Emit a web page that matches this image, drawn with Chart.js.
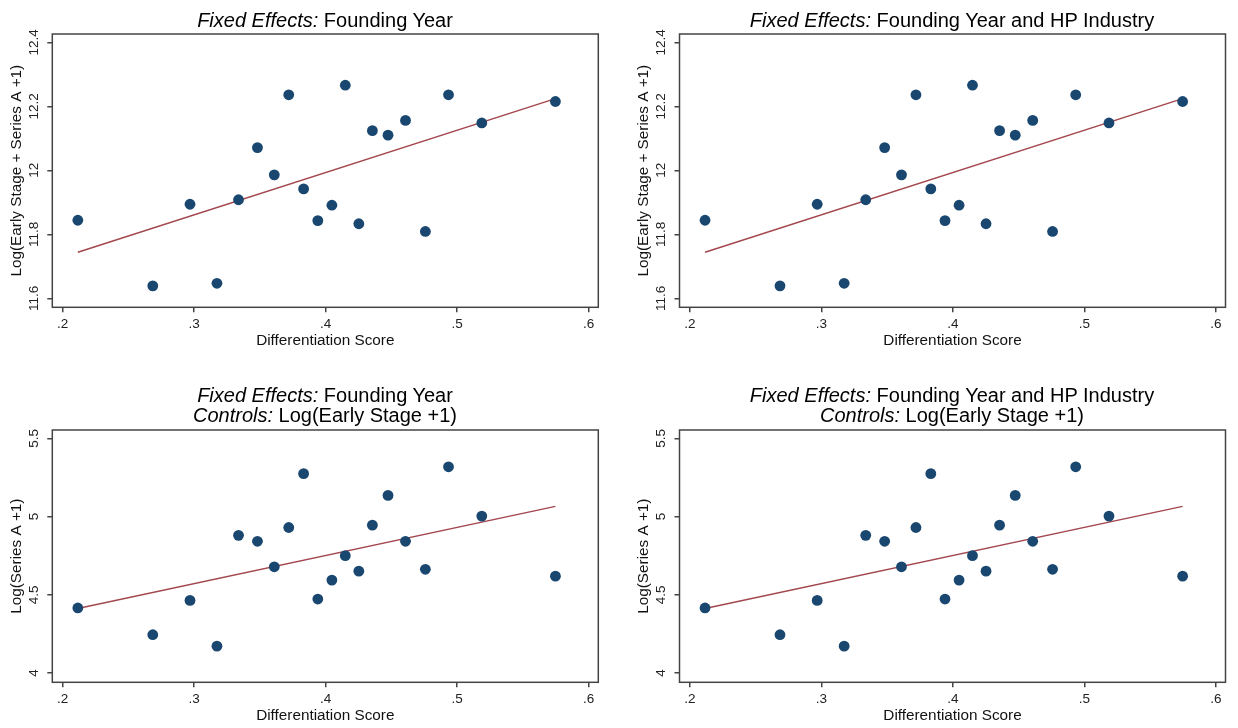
<!DOCTYPE html>
<html><head><meta charset="utf-8">
<script src="https://cdn.jsdelivr.net/npm/chart.js@4.4.1/dist/chart.umd.min.js"></script>
<style>
html,body{margin:0;padding:0;background:#fff;}
#wrap{position:relative;width:1238px;height:728px;overflow:hidden;font-family:"Liberation Sans",Arial,sans-serif;}
canvas{position:absolute;}
.ttl{position:absolute;text-align:center;font-size:20px;line-height:20px;color:#000;white-space:nowrap;}
</style></head><body>
<div id="wrap">
 <canvas id="c1" width="619" height="364" style="left:0;top:0"></canvas>
 <canvas id="c2" width="611" height="364" style="left:627px;top:0"></canvas>
 <canvas id="c3" width="619" height="364" style="left:0;top:364px"></canvas>
 <canvas id="c4" width="611" height="364" style="left:627px;top:364px"></canvas>
 <div class="ttl" style="left:52px;top:10px;width:546px"><i>Fixed Effects:</i> Founding Year</div>
 <div class="ttl" style="left:679px;top:10px;width:546px"><i>Fixed Effects:</i> Founding Year and HP Industry</div>
 <div class="ttl" style="left:52px;top:385px;width:546px"><i>Fixed Effects:</i> Founding Year<br><i>Controls:</i> Log(Early Stage +1)</div>
 <div class="ttl" style="left:679px;top:385px;width:546px"><i>Fixed Effects:</i> Founding Year and HP Industry<br><i>Controls:</i> Log(Early Stage +1)</div>
</div>
<script>
// ---- data ----
const xScores = [0.2115, 0.2685, 0.2968, 0.3173, 0.3337, 0.3481, 0.3609, 0.3719, 0.3832, 0.3940,
                 0.4047, 0.4149, 0.4252, 0.4355, 0.4474, 0.4607, 0.4758, 0.4934, 0.5187, 0.5747];
const yTopLeft = [11.844, 11.639, 11.894, 11.647, 11.908, 12.071, 11.986, 12.236, 11.942, 11.843,
                  11.891, 12.266, 11.833, 12.124, 12.110, 12.156, 11.809, 12.236, 12.148, 12.215];
const yTopRight = [11.844, 11.639, 11.894, 11.647, 11.908, 12.071, 11.986, 12.236, 11.942, 11.843,
                   11.891, 12.266, 11.833, 12.124, 12.110, 12.156, 11.809, 12.236, 12.148, 12.215];
const yBottomLeft = [4.416, 4.245, 4.464, 4.172, 4.880, 4.842, 4.679, 4.930, 5.274, 4.473,
                     4.594, 4.750, 4.651, 4.945, 5.135, 4.842, 4.663, 5.318, 5.003, 4.619];
const yBottomRight = [4.416, 4.245, 4.464, 4.172, 4.880, 4.842, 4.679, 4.930, 5.274, 4.473,
                      4.594, 4.750, 4.651, 4.945, 5.135, 4.842, 4.663, 5.318, 5.003, 4.619];
const fitX = [0.2115, 0.5747];
const fitTop = [11.744, 12.224];
const fitBottom = [4.412, 5.065];
const xTicks = [0.2, 0.3, 0.4, 0.5, 0.6];
const yTicksTop = [11.6, 11.8, 12, 12.2, 12.4];
const yTicksBottom = [4, 4.5, 5, 5.5];
const xTitle = 'Differentiation Score';
const yTitleTop = 'Log(Early Stage + Series A +1)';
const yTitleBottom = 'Log(Series A +1)';

const FAM = "'Liberation Sans', Arial, sans-serif";
const framePlugin = {
  id: 'frame',
  afterDraw(chart) {
    const {ctx, chartArea: a} = chart;
    ctx.save();
    ctx.strokeStyle = '#444';
    ctx.lineWidth = 1.5;
    ctx.strokeRect(a.left, a.top, a.right - a.left, a.bottom - a.top);
    ctx.restore();
  }
};

function panel(id, yVals, fitY, yTicks, yTitle, geo) {
  const c = document.getElementById(id);
  const W = c.width, H = c.height;
  new Chart(c, {
    type: 'scatter',
    data: {
      datasets: [
        { data: xScores.map((x, i) => ({x: x, y: yVals[i]})), backgroundColor: '#1a476f',
          borderColor: '#1a476f', pointRadius: 5.4, pointBorderWidth: 0, order: 1 },
        { data: fitX.map((x, i) => ({x: x, y: fitY[i]})), showLine: true, borderColor: '#a3474e',
          borderWidth: 1.5, pointRadius: 0, fill: false, order: 2 }
      ]
    },
    options: {
      responsive: false, animation: false, events: [],
      layout: { padding: { left: 0, top: geo.T, right: W - geo.R, bottom: 0 } },
      plugins: { legend: { display: false }, tooltip: { enabled: false } },
      scales: {
        x: {
          type: 'linear', position: 'bottom', min: geo.xmin, max: geo.xmax,
          afterBuildTicks: s => { s.ticks = xTicks.map(v => ({value: v})); },
          afterFit: s => { s.height = H - geo.B; },
          grid: { drawOnChartArea: false, drawTicks: true, tickLength: 5, color: '#444', lineWidth: 1.5 },
          border: { display: false },
          ticks: { callback: v => String(v).replace(/^0\./, '.'), font: { size: 13.5, family: FAM },
                   color: '#222', padding: 4, maxRotation: 0, autoSkip: false },
          title: { display: true, text: xTitle, font: { size: 15.3, family: FAM }, color: '#111',
                   padding: { top: 0, bottom: geo.xtPad } }
        },
        y: {
          type: 'linear', position: 'left', min: geo.ymin, max: geo.ymax,
          afterBuildTicks: s => { s.ticks = yTicks.map(v => ({value: v})); },
          afterFit: s => { s.width = geo.L; },
          grid: { drawOnChartArea: false, drawTicks: true, tickLength: 5, color: '#444', lineWidth: 1.5 },
          border: { display: false },
          ticks: { callback: v => String(v), font: { size: 13.5, family: FAM }, color: '#222',
                   padding: geo.ytPad, minRotation: 90, maxRotation: 90, crossAlign: 'center', autoSkip: false },
          title: { display: true, text: yTitle, font: { size: 15.3, family: FAM }, color: '#111',
                   padding: { top: 7.8, bottom: 0 } }
        }
      }
    },
    plugins: [framePlugin]
  });
}

const xmin = 0.2 - 10.4 / 1313, xmax = 0.6 + 9.6 / 1313;
panel('c1', yTopLeft, fitTop, yTicksTop, yTitleTop,
  { L: 52.3, R: 598.3, T: 34, B: 307.3, xmin, xmax, ymin: 11.572, ymax: 12.426, xtPad: 14, ytPad: 0.2 });
panel('c2', yTopRight, fitTop, yTicksTop, yTitleTop,
  { L: 52.5, R: 598.5, T: 34, B: 307.3, xmin, xmax, ymin: 11.572, ymax: 12.426, xtPad: 14, ytPad: 0.2 });
panel('c3', yBottomLeft, fitBottom, yTicksBottom, yTitleBottom,
  { L: 52.3, R: 598.3, T: 66, B: 318.3, xmin, xmax, ymin: 3.941, ymax: 5.553, xtPad: 3, ytPad: 3.9 });
panel('c4', yBottomRight, fitBottom, yTicksBottom, yTitleBottom,
  { L: 52.5, R: 598.5, T: 66, B: 318.3, xmin, xmax, ymin: 3.941, ymax: 5.553, xtPad: 3, ytPad: 3.9 });
</script>
</body></html>
